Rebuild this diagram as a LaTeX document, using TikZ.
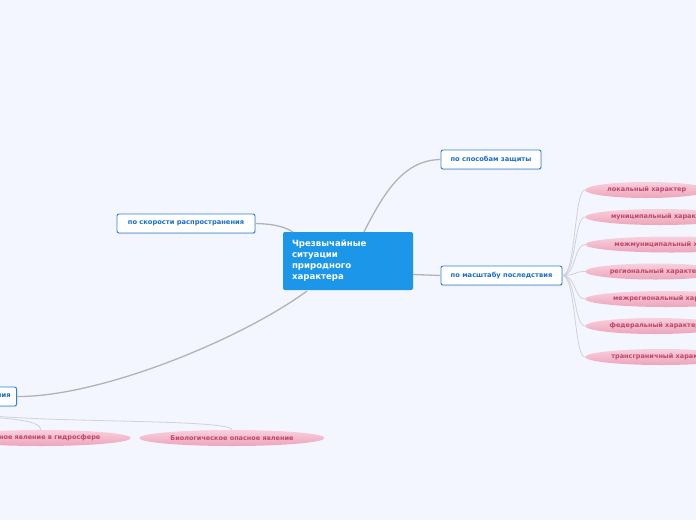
\documentclass[tikz,border=0pt]{standalone}
\usepackage{fontspec}
\setmainfont{DejaVu Sans}
\usetikzlibrary{shapes.geometric,shadows}
\definecolor{bgc}{HTML}{F3F6FE}
\definecolor{boxborder}{HTML}{2F80D8}
\definecolor{boxtext}{HTML}{1A6DCC}
\definecolor{centerfill}{HTML}{1B96E8}
\definecolor{mainline}{HTML}{B2B3B8}
\definecolor{subline}{HTML}{CFD2DC}
\definecolor{pinktop}{HTML}{F8D0DC}
\definecolor{pinkbot}{HTML}{EDA5BA}
\definecolor{pinktext}{HTML}{C0446E}
\tikzset{
  topicbox/.style={draw=boxborder, line width=0.9pt, fill=white, rounded corners=2pt,
    minimum height=19pt, inner xsep=6pt, inner ysep=0pt, text=boxtext,
    font=\fontsize{6.7}{8}\selectfont\bfseries,
    drop shadow={shadow xshift=0.6pt, shadow yshift=-1pt, fill=black!22}},
  centerbox/.style={fill=centerfill, rounded corners=2pt, text=white, align=left,
    font=\fontsize{8.6}{11}\selectfont\bfseries, minimum width=130pt, minimum height=58pt,
    text width=112pt, inner xsep=9pt},
  pinkell/.style={ellipse, shade, top color=pinktop, bottom color=pinkbot, draw=none,
    minimum height=16pt, inner xsep=4pt, inner ysep=0pt, text=pinktext,
    font=\fontsize{6.5}{7}\selectfont\bfseries},
  mainconn/.style={draw=mainline, line width=1.3pt},
  subconn/.style={draw=subline, line width=0.8pt},
}
\begin{document}
\begin{tikzpicture}[x=1pt,y=-1pt]
\useasboundingbox (0,0) rectangle (696,520);
\fill[bgc] (0,0) rectangle (696,520);
\clip (0,0) rectangle (696,520);

% central topic
\node[centerbox] (c) at (348,261) {Чрезвычайные\\ситуации\\природного\\характера};

% main topics
\node[topicbox, minimum width=100pt] (zas) at (491,159.5) {по способам защиты};
\node[topicbox, minimum width=138pt] (sko) at (186,223.5) {по скорости распространения};
\node[topicbox, minimum width=121pt] (mas) at (501.5,275.5) {по масштабу последствия};
\node[topicbox, anchor=east] (vid) at (17,396.5) {по виду опасного явления};

% main connectors
\coordinate (cTop) at (364,232);
\coordinate (cTL) at (293,232);
\coordinate (cBot) at (307,291);
\coordinate (cR) at (413,274.5);
\draw[mainconn] (cTop) .. controls (385,190) and (405,160) .. (zas.west);
\draw[mainconn] (sko.east) .. controls (275,224) and (285,227) .. (cTL);
\draw[mainconn] (cR) -- (mas.west);
\draw[mainconn] (vid.east) .. controls (100,397) and (240,340) .. (cBot);

% scale children
\foreach \name/\yy/\txt in {
  a/190/{локальный характер},
  b/217/{муниципальный характер},
  d/244.5/{межмуниципальный характер},
  e/271.5/{региональный характер},
  f/299/{межрегиональный характер},
  g/326/{федеральный характер},
  h/357/{трансграничный характер}}{
  \node[pinkell, anchor=west] (m\name) at (585,\yy) {\txt};
  \draw[subconn] (mas.east) .. controls (576,275.5) and (574,\yy) .. (m\name.west);
}

% bottom children
\coordinate (vidB) at (-40,412);
\node[pinkell, anchor=east] (hyd) at (131,438) {Опасное явление в гидросфере};
\node[pinkell, anchor=west] (bio) at (139,438) {Биологическое опасное явление};
\draw[subconn] (vidB) .. controls (0,420) and (40,418) .. (hyd.north);
\draw[subconn] (vidB) .. controls (20,424) and (230,418) .. (bio.north);
\end{tikzpicture}
\end{document}
